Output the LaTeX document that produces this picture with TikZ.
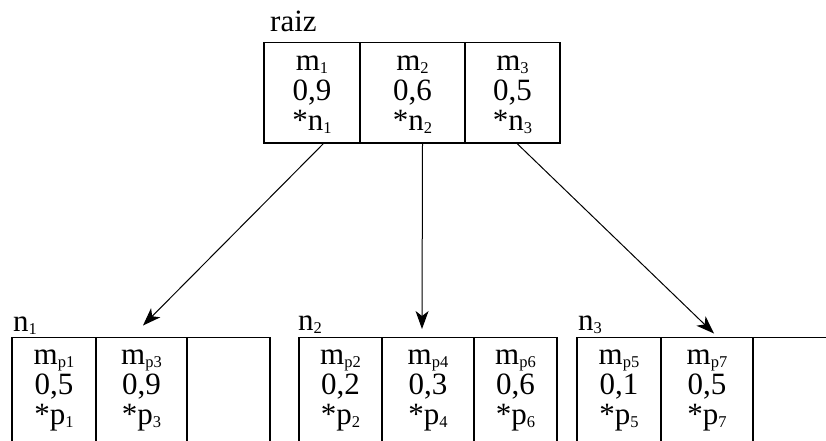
\documentclass[tikz,border=0pt]{standalone}
\usepackage{fontspec}
\setmainfont{Liberation Serif}
\usetikzlibrary{positioning,arrows.meta}

\newcommand{\sbs}[1]{\raisebox{-3pt}{\fontsize{16.5}{16.5}\selectfont #1}}
\newcommand{\celltext}[4]{\rule{0pt}{20pt}#2\\#3\\#4\rule[-#1]{0pt}{#1}}

\tikzset{
  cellbox/.style={draw,line width=1.2pt,rectangle,inner sep=0pt,outer sep=0pt,
    anchor=north west,align=center,minimum height=#1,font=\fontsize{31}{30}\selectfont},
  lbl/.style={inner sep=0pt,anchor=base west,font=\fontsize{31}{30}\selectfont},
  link/.style={->,line width=1pt}
}

\begin{document}
\begin{tikzpicture}[x=1pt,y=-1pt,>={Stealth[length=18pt,width=13pt,inset=5pt]}]
\clip (0,0) rectangle (826,440);
% root node
\node[lbl] (lroot) at (270,31.5) {raiz};
\node[cellbox=100.3pt,minimum width=96pt] (r1) at (264,42.7) {\celltext{4pt}{m\sbs{1}}{0,9}{*n\sbs{1}}};
\node[cellbox=100.3pt,minimum width=105pt,right=0pt of r1] (r2) {\celltext{4pt}{m\sbs{2}}{0,6}{*n\sbs{2}}};
\node[cellbox=100.3pt,minimum width=95pt,right=0pt of r2] (r3) {\celltext{4pt}{m\sbs{3}}{0,5}{*n\sbs{3}}};
% leaf n1
\node[lbl] (ln1) at (13,331.5) {n\sbs{1}};
\node[cellbox=106pt,minimum width=84pt] (a1) at (12,337.5) {\celltext{13pt}{m\sbs{p1}}{0,5}{*p\sbs{1}}};
\node[cellbox=106pt,minimum width=91pt,right=0pt of a1] (a2) {\celltext{13pt}{m\sbs{p3}}{0,9}{*p\sbs{3}}};
\node[cellbox=106pt,minimum width=83pt,right=0pt of a2] (a3) {};
% leaf n2
\node[lbl] (ln2) at (298,330) {n\sbs{2}};
\node[cellbox=106pt,minimum width=83pt] (b1) at (299,337.5) {\celltext{13pt}{m\sbs{p2}}{0,2}{*p\sbs{2}}};
\node[cellbox=106pt,minimum width=92pt,right=0pt of b1] (b2) {\celltext{13pt}{m\sbs{p4}}{0,3}{*p\sbs{4}}};
\node[cellbox=106pt,minimum width=83pt,right=0pt of b2] (b3) {\celltext{13pt}{m\sbs{p6}}{0,6}{*p\sbs{6}}};
% leaf n3
\node[lbl] (ln3) at (578,330) {n\sbs{3}};
\node[cellbox=106pt,minimum width=84pt] (c1) at (577,337.5) {\celltext{13pt}{m\sbs{p5}}{0,1}{*p\sbs{5}}};
\node[cellbox=106pt,minimum width=92pt,right=0pt of c1] (c2) {\celltext{13pt}{m\sbs{p7}}{0,5}{*p\sbs{7}}};
\node[cellbox=106pt,minimum width=83pt,right=0pt of c2] (c3) {};
% pointers
\draw[link] ([xshift=12pt]r1.south) -- ([xshift=1.5pt,yshift=12pt]a2.north);
\draw[link] ([xshift=10pt]r2.south) -- ([xshift=-6pt,yshift=8.5pt]b2.north);
\draw[link] ([xshift=4pt]r3.south) -- ([xshift=7pt,yshift=4pt]c2.north);
\end{tikzpicture}
\end{document}
